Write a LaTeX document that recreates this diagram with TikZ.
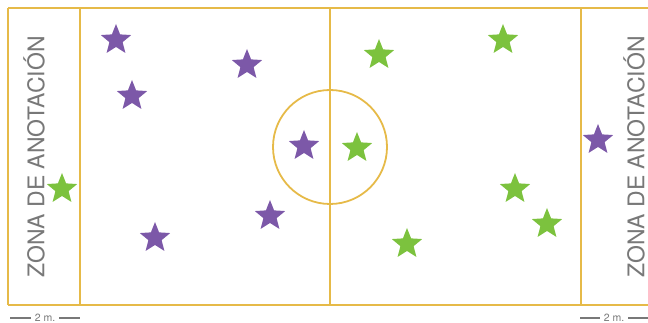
\documentclass[tikz,border=0pt]{standalone}
\usepackage{fontspec}
\setmainfont{TeX Gyre Heros}
\usetikzlibrary{shapes.geometric}
\definecolor{fieldline}{RGB}{230,186,72}
\definecolor{purplestar}{RGB}{124,88,168}
\definecolor{greenstar}{RGB}{124,194,62}
\definecolor{labelgray}{RGB}{120,120,120}
\tikzset{
  fieldstroke/.style={draw=fieldline, line width=1.8pt},
  starbase/.style={star, star points=5, star point ratio=2.3, minimum size=32pt, inner sep=0pt, draw=none},
  pstar/.style={starbase, fill=purplestar},
  gstar/.style={starbase, fill=greenstar},
  zonetext/.style={text=labelgray, font=\fontsize{23}{26}\selectfont, rotate=90, inner sep=0pt},
  dimtext/.style={text=labelgray, font=\fontsize{10.5}{12}\selectfont, inner sep=4pt},
  dimline/.style={draw=labelgray, line width=1.2pt}
}
\begin{document}
\begin{tikzpicture}[x=1pt,y=-1pt]
\useasboundingbox (0,0) rectangle (648,323);
% field
\draw[fieldstroke] (8,8) -- (660,8);
\draw[fieldstroke] (8,305) -- (660,305);
\draw[fieldstroke] (8,8) -- (8,305);
\draw[fieldstroke] (80,8) -- (80,305);
\draw[fieldstroke] (330,8) -- (330,305);
\draw[fieldstroke] (581,8) -- (581,305);
\node[circle, fieldstroke, minimum size=114pt, inner sep=0pt] (center) at (330,147) {};
% zone labels
\node[zonetext] (zl) at (34,157) {ZONA DE ANOTACIÓN};
\node[zonetext] (zr) at (634,157) {ZONA DE ANOTACIÓN};
% purple stars
\node[pstar] (p1) at (116,40) {};
\node[pstar] (p2) at (132,96) {};
\node[pstar] (p3) at (247,65) {};
\node[pstar] (p4) at (304,146) {};
\node[pstar] (p5) at (270,216) {};
\node[pstar] (p6) at (155,238) {};
\node[pstar] (p7) at (598,140) {};
% green stars
\node[gstar] (g1) at (62,189) {};
\node[gstar] (g2) at (379,55) {};
\node[gstar] (g3) at (503,40) {};
\node[gstar] (g4) at (357,148) {};
\node[gstar] (g5) at (515,189) {};
\node[gstar] (g6) at (547,224) {};
\node[gstar] (g7) at (407,244) {};
% dimension labels
\node[dimtext] (dl) at (45,318) {2 m.};
\coordinate (dla) at (10,318);
\coordinate (dlb) at (80,318);
\draw[dimline] (dla) -- (dl.west);
\draw[dimline] (dl.east) -- (dlb);
\node[dimtext] (dr) at (614,318) {2 m.};
\coordinate (dra) at (580,318);
\coordinate (drb) at (648,318);
\draw[dimline] (dra) -- (dr.west);
\draw[dimline] (dr.east) -- (drb);
\end{tikzpicture}
\end{document}
